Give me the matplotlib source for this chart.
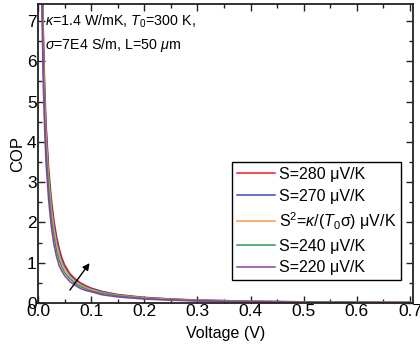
import matplotlib
matplotlib.use("Agg")
import matplotlib.pyplot as plt
from matplotlib.ticker import MultipleLocator

plt.rcParams['font.family'] = ['Liberation Sans', 'DejaVu Sans']
plt.rcParams['mathtext.fontset'] = 'custom'
plt.rcParams['mathtext.rm'] = 'Liberation Sans'
plt.rcParams['mathtext.it'] = 'Liberation Sans:italic'
plt.rcParams['mathtext.bf'] = 'Liberation Sans:bold'

# voltage samples (V)
volt = [0.005, 0.0075, 0.01, 0.0125, 0.015, 0.02, 0.025, 0.03, 0.035, 0.04,
        0.045, 0.05, 0.06, 0.07, 0.08, 0.09, 0.1, 0.12, 0.15, 0.2,
        0.25, 0.3, 0.4, 0.5, 0.6, 0.7]

cop_280 = [13.6, 9.1, 6.8, 5.45, 4.5, 3.35, 2.6, 2.05, 1.65, 1.35,
           1.12, 0.95, 0.73, 0.6, 0.5, 0.43, 0.37, 0.29, 0.21, 0.14,
           0.1, 0.075, 0.045, 0.03, 0.02, 0.015]
cop_270 = [13.1, 8.75, 6.55, 5.25, 4.35, 3.22, 2.48, 1.95, 1.57, 1.28,
           1.06, 0.9, 0.7, 0.57, 0.475, 0.41, 0.355, 0.28, 0.2, 0.133,
           0.095, 0.071, 0.043, 0.028, 0.019, 0.014]
cop_opt = [12.5, 8.4, 6.3, 5.0, 4.15, 3.08, 2.35, 1.85, 1.47, 1.19,
           0.99, 0.85, 0.66, 0.54, 0.45, 0.385, 0.335, 0.26, 0.19, 0.125,
           0.09, 0.066, 0.04, 0.026, 0.018, 0.013]
cop_240 = [11.6, 7.8, 5.85, 4.65, 3.85, 2.85, 2.12, 1.65, 1.3, 1.06,
           0.89, 0.76, 0.6, 0.49, 0.41, 0.35, 0.3, 0.24, 0.175, 0.113,
           0.078, 0.058, 0.034, 0.021, 0.015, 0.011]
cop_220 = [10.7, 7.15, 5.37, 4.3, 3.5, 2.55, 1.9, 1.45, 1.14, 0.92,
           0.79, 0.68, 0.53, 0.44, 0.36, 0.31, 0.28, 0.205, 0.15, 0.097,
           0.07, 0.05, 0.029, 0.018, 0.012, 0.008]

labels = [r"S=280 μV/K", r"S=270 μV/K", r"S$^2$=$\kappa$/($T_0$σ) μV/K",
          r"S=240 μV/K", r"S=220 μV/K"]
colors = ['#ee1c24', '#2c4fbf', '#f39a4a', '#2a9a55', '#8a3fa0']
series = [cop_280, cop_270, cop_opt, cop_240, cop_220]

fig = plt.figure(figsize=(4.2, 3.5), dpi=100)
ax = fig.add_axes([38/420, 1-303/350, (413-38)/420, (303-4)/350])

for y, c, lab in zip(series, colors, labels):
    ax.plot(volt, y, color=c, lw=1.1, label=lab)

ax.annotate('', xy=(0.097, 0.99), xytext=(0.060, 0.32),
            arrowprops=dict(arrowstyle='-|>', color='black', lw=1.0,
                            mutation_scale=10, shrinkA=0, shrinkB=0))

ax.text(0.013, 7.0, r"$\kappa$=1.4 W/mK, $T_0$=300 K,", fontsize=10.3, va='center')
ax.text(0.013, 6.4, r"$\sigma$=7E4 S/m, L=50 $\mu$m", fontsize=10.3, va='center')

ax.set_xlim(0, 0.7056)
ax.set_ylim(0, 7.42)
ax.xaxis.set_major_locator(MultipleLocator(0.1))
ax.xaxis.set_minor_locator(MultipleLocator(0.05))
ax.yaxis.set_major_locator(MultipleLocator(1))
ax.yaxis.set_minor_locator(MultipleLocator(0.5))
ax.xaxis.set_major_formatter(plt.FormatStrFormatter('%.1f'))
ax.tick_params(which='both', direction='in', top=True, right=True,
               labelsize=12.5, width=1.0, color='#222222', pad=1)
ax.tick_params(which='major', length=5)
ax.tick_params(which='minor', length=3)
for s in ax.spines.values():
    s.set_linewidth(1.3)
    s.set_color('#222222')

ax.set_xlabel('Voltage (V)', fontsize=11.5, labelpad=5)
ax.set_ylabel('COP', fontsize=12, labelpad=1)

leg = ax.legend(loc='upper left', bbox_to_anchor=(232/420, 1-162/350),
                bbox_transform=fig.transFigure, borderaxespad=0,
                fancybox=False, edgecolor='black', framealpha=1,
                fontsize=11.5, handlelength=2.4, handletextpad=0.25,
                labelspacing=0.42, borderpad=0.3)
leg.get_frame().set_linewidth(1.0)

fig.savefig('out.png', dpi=100)
